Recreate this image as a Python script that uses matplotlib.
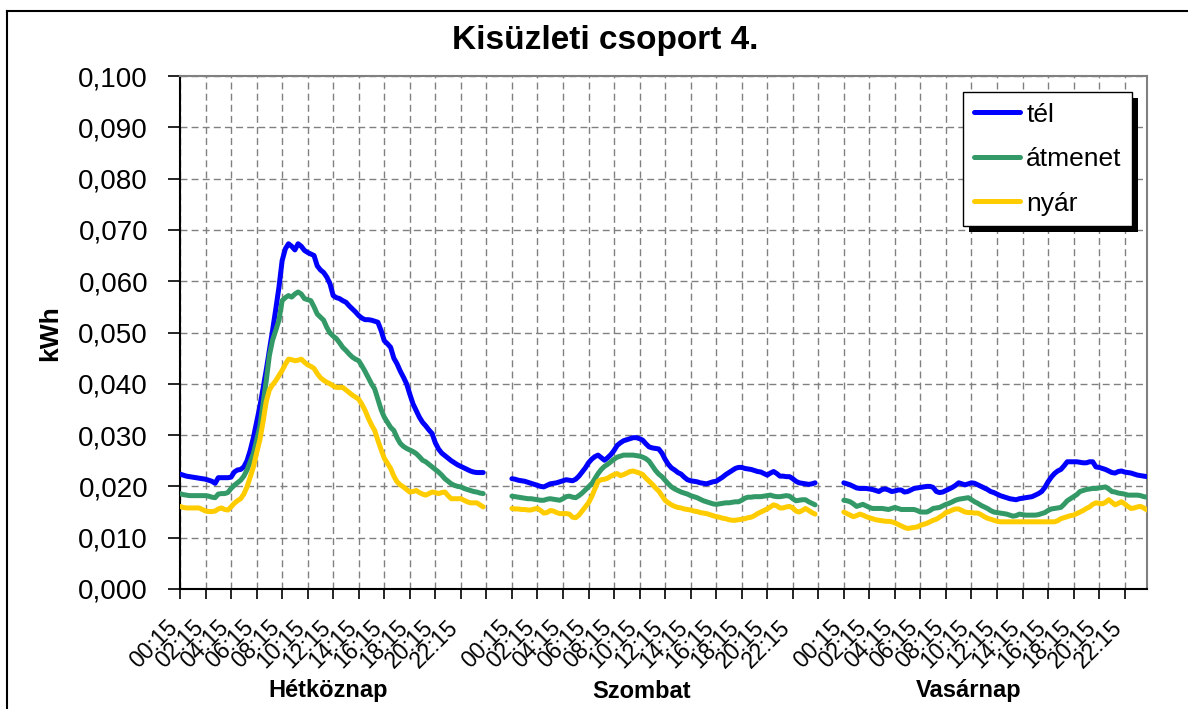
import numpy as np
import matplotlib
matplotlib.use("Agg")
import matplotlib.pyplot as plt
from matplotlib.ticker import FuncFormatter
from matplotlib.transforms import blended_transform_factory, ScaledTranslation
from matplotlib.lines import Line2D
from matplotlib.patches import Rectangle

plt.rcParams['font.family'] = ['Liberation Sans', 'DejaVu Sans']

# load profile values, Wh per quarter hour (00:15 ... 24:00)
hetkoznap_tel = [
    22.4, 22.2, 22.0, 21.9, 21.8, 21.7, 21.6, 21.5, 21.4, 21.2, 21.0, 20.6,
    21.7, 21.7, 21.7, 21.7, 21.8, 22.8, 23.2, 23.3, 23.8, 25.0, 27.0, 29.5,
    32.5, 35.5, 39.0, 42.6, 46.5, 50.4, 54.5, 58.8, 64.0, 66.3, 67.3, 66.8,
    66.1, 67.3, 66.8, 66.0, 65.6, 65.3, 65.0, 63.0, 62.2, 61.7, 60.8, 59.5,
    57.2, 56.8, 56.6, 56.2, 55.9, 55.2, 54.6, 54.0, 53.3, 52.8, 52.5, 52.5,
    52.4, 52.2, 52.0, 50.4, 48.4, 47.8, 47.1, 45.0, 43.9, 42.5, 41.3, 40.0,
    38.0, 36.1, 34.8, 33.5, 32.5, 31.8, 31.0, 30.3, 28.5, 27.3, 26.5, 26.0,
    25.5, 25.0, 24.6, 24.2, 23.9, 23.6, 23.3, 23.0, 22.8, 22.7, 22.7, 22.7]
hetkoznap_atmenet = [
    18.6, 18.4, 18.3, 18.2, 18.2, 18.2, 18.2, 18.2, 18.2, 18.1, 17.9, 17.8,
    18.5, 18.6, 18.6, 18.8, 19.6, 20.2, 20.7, 21.2, 22.0, 23.2, 24.8, 26.4,
    29.0, 31.6, 36.0, 40.5, 45.5, 48.5, 50.4, 52.4, 56.2, 56.8, 57.2, 56.9,
    57.5, 57.9, 57.5, 56.6, 56.4, 56.2, 55.0, 53.6, 53.0, 52.4, 51.0, 49.9,
    49.3, 48.8, 48.0, 47.1, 46.5, 45.8, 45.2, 44.8, 44.5, 43.5, 42.4, 41.2,
    40.0, 39.0, 37.0, 35.0, 33.5, 32.5, 31.5, 30.9, 29.5, 28.4, 27.8, 27.4,
    27.1, 26.8, 26.4, 25.8, 25.1, 24.8, 24.3, 23.8, 23.3, 22.8, 22.2, 21.5,
    21.0, 20.5, 20.2, 20.0, 19.9, 19.6, 19.4, 19.2, 19.0, 18.9, 18.7, 18.6]
hetkoznap_nyar = [
    16.1, 15.9, 15.8, 15.8, 15.8, 15.8, 15.8, 15.5, 15.2, 15.1, 15.1, 15.2,
    15.6, 15.8, 15.5, 15.4, 16.0, 16.7, 17.2, 17.6, 18.5, 19.9, 21.8, 23.8,
    26.5, 29.0, 32.5, 36.5, 38.8, 39.8, 40.6, 41.6, 42.6, 43.8, 44.8, 44.7,
    44.5, 44.6, 44.8, 44.2, 43.7, 43.4, 43.0, 42.0, 41.2, 40.7, 40.3, 40.0,
    39.6, 39.3, 39.3, 39.3, 38.8, 38.3, 37.8, 37.4, 37.0, 36.0, 34.8, 33.3,
    32.0, 30.9, 29.0, 27.2, 25.5, 24.5, 23.5, 22.0, 20.9, 20.3, 19.9, 19.4,
    18.9, 19.0, 19.2, 18.8, 18.5, 18.3, 18.6, 18.9, 18.8, 18.6, 18.8, 18.9,
    18.2, 17.6, 17.6, 17.6, 17.6, 17.3, 17.0, 16.8, 16.8, 16.8, 16.4, 16.0]

szombat_tel = [
    21.5, 21.4, 21.2, 21.1, 21.0, 20.8, 20.6, 20.4, 20.2, 20.0, 19.9, 20.2,
    20.5, 20.6, 20.7, 20.9, 21.1, 21.3, 21.2, 21.1, 21.4, 22.0, 22.8, 23.6,
    24.6, 25.3, 25.8, 26.1, 25.6, 25.1, 25.6, 26.2, 27.0, 28.0, 28.5, 28.9,
    29.1, 29.3, 29.5, 29.5, 29.3, 29.0, 28.3, 27.7, 27.5, 27.4, 27.3, 26.5,
    25.3, 24.3, 23.6, 23.2, 22.7, 22.4, 21.8, 21.3, 21.1, 21.0, 20.9, 20.7,
    20.6, 20.5, 20.7, 20.9, 21.0, 21.4, 21.8, 22.3, 22.7, 23.1, 23.5, 23.7,
    23.7, 23.5, 23.4, 23.3, 23.1, 22.9, 22.8, 22.5, 22.2, 22.6, 22.9, 22.5,
    22.0, 22.0, 21.9, 21.9, 21.5, 21.0, 20.7, 20.6, 20.5, 20.4, 20.5, 20.7]
szombat_atmenet = [
    18.1, 18.0, 17.9, 17.8, 17.7, 17.6, 17.6, 17.5, 17.4, 17.3, 17.3, 17.5,
    17.6, 17.5, 17.4, 17.3, 17.6, 18.0, 18.1, 17.9, 17.8, 18.2, 18.7, 19.3,
    19.9, 20.5, 21.5, 22.5, 23.3, 23.9, 24.3, 24.8, 25.3, 25.7, 25.9, 26.1,
    26.1, 26.1, 26.1, 26.0, 25.9, 25.7, 25.4, 24.9, 24.0, 23.1, 22.4, 21.9,
    21.2, 20.5, 19.9, 19.5, 19.2, 18.9, 18.7, 18.5, 18.2, 18.0, 17.8, 17.5,
    17.2, 17.0, 16.8, 16.6, 16.5, 16.6, 16.7, 16.8, 16.8, 16.9, 17.0, 17.0,
    17.3, 17.7, 17.9, 17.9, 18.0, 18.0, 18.0, 18.1, 18.2, 18.3, 18.1, 18.0,
    18.0, 18.1, 18.2, 18.1, 17.6, 17.2, 17.3, 17.4, 17.4, 17.0, 16.7, 16.4]
szombat_nyar = [
    15.7, 15.6, 15.6, 15.5, 15.5, 15.4, 15.4, 15.6, 15.7, 15.3, 14.8, 14.9,
    15.3, 15.2, 14.9, 14.7, 14.7, 14.7, 14.6, 14.0, 13.9, 14.4, 15.2, 16.0,
    16.8, 18.0, 19.5, 21.0, 21.3, 21.4, 21.6, 22.0, 22.3, 22.5, 22.1, 22.3,
    22.6, 22.9, 23.0, 22.8, 22.6, 22.3, 21.6, 21.0, 20.4, 19.7, 19.1, 18.2,
    17.3, 16.8, 16.4, 16.1, 15.9, 15.8, 15.6, 15.5, 15.4, 15.2, 15.1, 14.9,
    14.8, 14.7, 14.5, 14.3, 14.1, 14.0, 13.8, 13.7, 13.5, 13.4, 13.4, 13.5,
    13.6, 13.7, 13.9, 14.0, 14.3, 14.7, 15.0, 15.3, 15.6, 16.0, 16.4, 16.2,
    15.8, 15.8, 16.0, 16.1, 15.8, 15.2, 15.0, 15.3, 15.7, 15.3, 14.9, 14.6]

vasarnap_tel = [
    20.7, 20.5, 20.3, 20.0, 19.7, 19.6, 19.6, 19.6, 19.5, 19.4, 19.2, 19.0,
    19.4, 19.5, 19.3, 19.0, 19.1, 19.3, 19.3, 18.9, 19.0, 19.3, 19.6, 19.7,
    19.8, 19.9, 20.0, 20.0, 19.8, 19.0, 18.8, 18.9, 19.2, 19.5, 19.8, 20.2,
    20.7, 20.5, 20.3, 20.5, 20.7, 20.6, 20.3, 20.0, 19.7, 19.4, 19.0, 18.8,
    18.5, 18.2, 18.0, 17.8, 17.6, 17.5, 17.4, 17.6, 17.7, 17.8, 17.9, 18.0,
    18.3, 18.6, 19.0, 19.8, 20.9, 21.8, 22.5, 23.0, 23.3, 24.0, 24.8, 24.8,
    24.8, 24.8, 24.7, 24.6, 24.6, 24.8, 24.8, 23.8, 23.7, 23.5, 23.3, 23.0,
    22.7, 22.6, 22.9, 23.0, 22.8, 22.7, 22.6, 22.4, 22.2, 22.1, 22.0, 21.9]
vasarnap_atmenet = [
    17.3, 17.2, 17.0, 16.6, 16.1, 16.3, 16.5, 16.2, 15.9, 15.7, 15.7, 15.7,
    15.7, 15.6, 15.5, 15.7, 15.9, 15.7, 15.5, 15.5, 15.5, 15.5, 15.5, 15.3,
    15.0, 15.0, 15.0, 15.3, 15.7, 15.8, 15.9, 16.2, 16.5, 16.7, 17.0, 17.3,
    17.5, 17.6, 17.7, 17.8, 17.4, 17.0, 16.7, 16.3, 16.0, 15.7, 15.3, 15.0,
    14.9, 14.8, 14.7, 14.6, 14.4, 14.2, 14.3, 14.6, 14.5, 14.4, 14.4, 14.4,
    14.4, 14.5, 14.7, 14.9, 15.3, 15.6, 15.7, 15.8, 15.9, 16.5, 17.2, 17.6,
    18.0, 18.4, 19.0, 19.2, 19.4, 19.5, 19.6, 19.6, 19.7, 19.8, 19.9, 19.5,
    19.0, 18.9, 18.7, 18.6, 18.5, 18.3, 18.3, 18.3, 18.3, 18.2, 18.0, 17.9]
vasarnap_nyar = [
    15.0, 14.7, 14.4, 14.1, 14.3, 14.6, 14.4, 14.1, 13.9, 13.7, 13.5, 13.4,
    13.3, 13.2, 13.2, 13.1, 12.9, 12.6, 12.3, 12.0, 11.8, 11.9, 12.0, 12.1,
    12.4, 12.6, 12.8, 13.1, 13.4, 13.6, 14.0, 14.4, 14.9, 15.1, 15.4, 15.6,
    15.6, 15.3, 15.0, 14.9, 14.9, 14.8, 14.8, 14.5, 14.1, 13.8, 13.6, 13.4,
    13.2, 13.1, 13.1, 13.1, 13.1, 13.1, 13.1, 13.1, 13.1, 13.1, 13.1, 13.1,
    13.1, 13.1, 13.1, 13.1, 13.1, 13.1, 13.1, 13.3, 13.7, 13.9, 14.1, 14.3,
    14.4, 14.7, 15.0, 15.3, 15.7, 16.0, 16.5, 16.8, 16.7, 16.6, 16.9, 17.4,
    16.9, 16.4, 16.7, 17.0, 16.6, 16.1, 15.7, 15.8, 16.0, 16.1, 15.8, 15.4]

days = ['Hétköznap', 'Szombat', 'Vasárnap']
seasons = ['tél', 'átmenet', 'nyár']
series = {
    'tél': [hetkoznap_tel, szombat_tel, vasarnap_tel],
    'átmenet': [hetkoznap_atmenet, szombat_atmenet, vasarnap_atmenet],
    'nyár': [hetkoznap_nyar, szombat_nyar, vasarnap_nyar],
}
colors = {'tél': '#0000FF', 'átmenet': '#339966', 'nyár': '#FFCC00'}

# quarter hour labels 00:15 .. 24:00
times = ['%02d:%02d' % ((m // 60), m % 60) for m in range(15, 24 * 60 + 1, 15)]

n = 96
gap = 8
offsets = [d * (n + gap) for d in range(3)]
xmax = offsets[-1] + n - 1

W, H = 1188, 709
fig = plt.figure(figsize=(W / 100, H / 100), dpi=100)
ax = fig.add_axes([180 / W, 1 - 589 / H, (1147 - 180) / W, (589 - 76) / H])

for s in seasons:
    for d, off in enumerate(offsets):
        x = np.arange(n) + off
        y = np.array(series[s][d]) / 1000.0
        ax.plot(x, y, color=colors[s], lw=3.6, solid_capstyle='round',
                solid_joinstyle='round', label=s if d == 0 else None, zorder=3)

ax.set_xlim(0, xmax)
ax.set_ylim(0, 0.1)
ax.set_yticks(np.arange(0, 0.1001, 0.01))
ax.yaxis.set_major_formatter(FuncFormatter(lambda v, p: ('%.3f' % v).replace('.', ',')))

ticks = np.arange(0, xmax + 1, 8)
tick_labels = []
for t in ticks:
    k = t % (n + gap)
    tick_labels.append(times[k] if k < n else '')
ax.set_xticks(ticks)
ax.set_xticklabels(tick_labels, rotation=45, ha='right', va='center',
                   rotation_mode='anchor', fontsize=16.5)
ax.tick_params(axis='y', labelsize=20, length=9, width=1.2, direction='out', pad=14)
ax.tick_params(axis='x', length=7, width=1.2, direction='out', pad=18)
shift = ScaledTranslation(-6 / 100, 0, fig.dpi_scale_trans)
for lab in ax.get_xticklabels():
    lab.set_transform(lab.get_transform() + shift)

ax.grid(True, color='#808080', lw=1.0, ls=(0, (5, 3)))
ax.set_axisbelow(True)
for side in ['top', 'right']:
    ax.spines[side].set_color('#808080')
    ax.spines[side].set_linewidth(1.5)
for side in ['left', 'bottom']:
    ax.spines[side].set_color('black')
    ax.spines[side].set_linewidth(1.5)

fig.text(605 / W, 1 - 40 / H, 'Kisüzleti csoport 4.', ha='center', va='center',
         fontsize=24, fontweight='bold')
fig.text(50 / W, 1 - 333 / H, 'kWh', rotation=90, ha='center', va='center',
         fontsize=19, fontweight='bold')

trans = blended_transform_factory(ax.transData, fig.transFigure)
group_x = [46.5, 144.7, 247.0]
for gx, name in zip(group_x, days):
    ax.text(gx, 1 - 691 / H, name, transform=trans, ha='center', va='center',
            fontsize=17, fontweight='bold')

leg = ax.legend(loc='upper left', bbox_to_anchor=(963 / W, 1 - 92 / H),
                bbox_transform=fig.transFigure, fontsize=19, frameon=True,
                fancybox=False, edgecolor='black', framealpha=1,
                handlelength=1.75, handletextpad=0.25, labelspacing=0.78,
                borderpad=0.4, borderaxespad=0)
leg.get_frame().set_linewidth(1.0)
leg.set_zorder(5)

# chart area border (left and top edges visible)
fig.add_artist(Line2D([7 / W, 7 / W], [0, 1 - 11 / H], color='black', lw=1.5))
fig.add_artist(Line2D([7 / W, 1], [1 - 11 / H, 1 - 11 / H], color='black', lw=1.5))

# legend drop shadow
fig.canvas.draw()
bb = leg.get_window_extent()
shadow = Rectangle(((bb.x0 + 6) / W, (bb.y0 - 6) / H), bb.width / W, bb.height / H,
                   transform=fig.transFigure, facecolor='black', edgecolor='none',
                   zorder=4)
ax.add_artist(shadow)
shadow.set_clip_on(False)

fig.savefig('out.png', dpi=100)
